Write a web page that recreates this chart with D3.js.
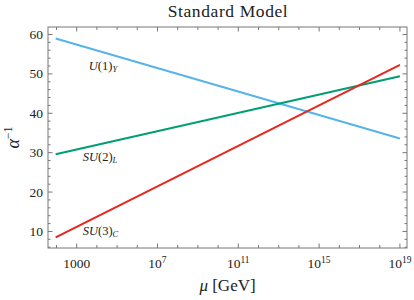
<!DOCTYPE html>
<html>
<head>
<meta charset="utf-8">
<script src="https://cdn.jsdelivr.net/npm/d3@7"></script>
<style>
  body { margin: 0; background: #fff; }
  text { font-family: "Liberation Serif", "DejaVu Serif", serif; fill: #222; }
</style>
</head>
<body>
<div id="chart"></div>
<script>
// running couplings, one-loop straight lines in log(mu)
const mu = [91.19, 1e19];
const u1 = [59.0, 33.6];
const su2 = [29.6, 49.4];
const su3 = [8.5, 52.3];
const yTicks = [10, 20, 30, 40, 50, 60];
const xTicks = [1e3, 1e7, 1e11, 1e15, 1e19];
const xTickLabels = [["1000", ""], ["10", "7"], ["10", "11"], ["10", "15"], ["10", "19"]];

const margin = {top: 27, right: 7, bottom: 52, left: 48};
const width = 414 - margin.left - margin.right;
const height = 300 - margin.top - margin.bottom;

const svg = d3.select("#chart")
    .append("svg")
    .attr("width", width + margin.left + margin.right)
    .attr("height", height + margin.top + margin.bottom)
    .append("g")
    .attr("transform", `translate(${margin.left},${margin.top})`);

const xScale = d3.scaleLog().domain([Math.pow(10, 1.58), Math.pow(10, 19.35)]).range([0, width]);
const yScale = d3.scaleLinear().domain([5.8, 61.9]).range([height, 0]);

// frame
svg.append("rect")
    .attr("width", width).attr("height", height)
    .attr("fill", "none").attr("stroke", "#777").attr("stroke-width", 1);

// decade ticks on bottom/top, inward
const decades = d3.range(2, 20).map(e => Math.pow(10, e));
decades.forEach(function(d) {
    const major = xTicks.includes(d);
    const len = major ? 4.5 : 3;
    const x = xScale(d);
    svg.append("line").attr("x1", x).attr("x2", x).attr("y1", height).attr("y2", height - len)
        .attr("stroke", "#777");
    svg.append("line").attr("x1", x).attr("x2", x).attr("y1", 0).attr("y2", len)
        .attr("stroke", "#777");
});

// y ticks every 2, inward on both sides
d3.range(6, 62, 2).forEach(function(d) {
    const major = d % 10 === 0;
    const len = major ? 4.5 : 2.5;
    const y = yScale(d);
    svg.append("line").attr("x1", 0).attr("x2", len).attr("y1", y).attr("y2", y).attr("stroke", "#777");
    svg.append("line").attr("x1", width).attr("x2", width - len).attr("y1", y).attr("y2", y).attr("stroke", "#777");
});

// y tick labels
svg.selectAll(".ylab")
    .data(yTicks)
    .enter().append("text")
    .attr("x", -5)
    .attr("y", d => yScale(d) + 4.5)
    .attr("text-anchor", "end")
    .attr("font-size", 13.5)
    .text(d => d);

// x tick labels
xTicks.forEach(function(d, i) {
    const t = svg.append("text")
        .attr("x", xScale(d))
        .attr("y", height + 20)
        .attr("text-anchor", "middle")
        .attr("font-size", 13.5);
    t.append("tspan").text(xTickLabels[i][0]);
    if (xTickLabels[i][1]) {
        t.append("tspan").attr("dy", -5).attr("font-size", 9.5).text(xTickLabels[i][1]);
    }
});

const line = d3.line()
    .x((d, i) => xScale(mu[i]))
    .y(d => yScale(d));

const series = [
    {values: u1, color: "#56b4e9"},
    {values: su2, color: "#009e73"},
    {values: su3, color: "#e8251f"}
];
series.forEach(function(s) {
    svg.append("path")
        .datum(s.values)
        .attr("d", line)
        .attr("fill", "none")
        .attr("stroke", s.color)
        .attr("stroke-width", 2);
});

// curve labels
function mathLabel(x, y, main, paren, sub) {
    const t = svg.append("text").attr("x", x).attr("y", y).attr("font-size", 12.5);
    t.append("tspan").attr("font-style", "italic").text(main);
    t.append("tspan").text(paren);
    t.append("tspan").attr("font-style", "italic").attr("font-size", 8.5).attr("dy", 2.5).text(sub);
}
mathLabel(xScale(Math.pow(10, 3.6)), yScale(51), "U", "(1)", "Y");
mathLabel(xScale(Math.pow(10, 3.3)), yScale(28), "SU", "(2)", "L");
mathLabel(xScale(Math.pow(10, 3.3)), yScale(9.2), "SU", "(3)", "C");

// title
svg.append("text")
    .attr("x", width / 2 + 0.5)
    .attr("y", -10)
    .attr("text-anchor", "middle")
    .attr("font-size", 17.5)
    .attr("letter-spacing", 0.6)
    .text("Standard Model");

// axis titles
const xt = svg.append("text")
    .attr("x", width / 2)
    .attr("y", height + 43)
    .attr("text-anchor", "middle")
    .attr("font-size", 17);
xt.append("tspan").attr("font-style", "italic").text("μ");
xt.append("tspan").text(" [GeV]");

const yt = svg.append("text")
    .attr("transform", `translate(${-29},${height / 2}) rotate(-90)`)
    .attr("text-anchor", "middle")
    .attr("font-size", 18);
yt.append("tspan").attr("font-style", "italic").text("α");
yt.append("tspan").attr("font-size", 12).attr("dy", -7).text("−1");
</script>
</body>
</html>
